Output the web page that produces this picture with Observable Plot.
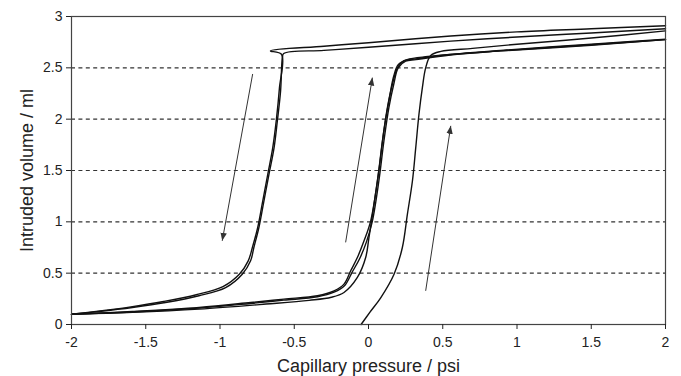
<!DOCTYPE html>
<html>
<head>
<meta charset="utf-8">
<script src="https://cdn.jsdelivr.net/npm/d3@7"></script>
<script src="https://cdn.jsdelivr.net/npm/@observablehq/plot@0.6"></script>
<style>
  body { margin: 0; background: #fff; }
  #chart svg { display: block; }
</style>
</head>
<body>
<div id="chart"></div>
<script>
// ---- axis ticks ----
const xTicks = [-2, -1.5, -1, -0.5, 0, 0.5, 1, 1.5, 2];
const xTickLabels = ["-2", "-1.5", "-1", "-0.5", "0", "0.5", "1", "1.5", "2"];
const yTicks = [0, 0.5, 1, 1.5, 2, 2.5, 3];
const yTickLabels = ["0", "0.5", "1", "1.5", "2", "2.5", "3"];
const gridY = [0.5, 1, 1.5, 2, 2.5];
const xLabel = "Capillary pressure / psi";
const yLabel = "Intruded volume / ml";

// ---- curves (psi, ml) ----
// first intrusion (rightmost)
const intrusionX = [-0.05, 0.01, 0.082, 0.172, 0.228, 0.262, 0.296, 0.318, 0.34, 0.363, 0.385, 0.419, 0.487, 0.7, 1.0, 1.5, 2.0];
const intrusionY = [0, 0.12, 0.26, 0.49, 0.75, 1.075, 1.40, 1.72, 2.05, 2.31, 2.50, 2.62, 2.66, 2.69, 2.73, 2.79, 2.86];

// drainage cycle 1 (from right end, along top, down the left branch)
const drain1X = [2.0, 1.5, 1.0, 0.554, 0.0, -0.3, -0.571, -0.58, -0.592, -0.614, -0.636, -0.67, -0.704, -0.738, -0.772, -0.794, -0.85, -0.962, -1.142, -1.367, -1.59, -1.816, -2.0];
const drain1Y = [2.88, 2.84, 2.80, 2.76, 2.70, 2.67, 2.64, 2.60, 2.275, 1.98, 1.72, 1.465, 1.205, 0.945, 0.75, 0.62, 0.49, 0.36, 0.28, 0.214, 0.166, 0.127, 0.10];

// drainage cycle 2 (upper top line, sharp tip, left branch slightly offset)
const drain2X = [2.0, 1.5, 1.0, 0.554, 0.0, -0.3, -0.66, -0.585, -0.6, -0.62, -0.645, -0.678, -0.712, -0.746, -0.782, -0.81, -0.87, -0.98, -1.16, -1.38, -1.6, -1.82, -2.0];
const drain2Y = [2.91, 2.88, 2.85, 2.81, 2.745, 2.71, 2.665, 2.63, 2.30, 2.0, 1.72, 1.465, 1.205, 0.945, 0.75, 0.62, 0.49, 0.37, 0.29, 0.224, 0.172, 0.13, 0.10];

// imbibition curves (middle, rising)
const imbib1X = [-2.0, -1.59, -1.14, -0.794, -0.57, -0.344, -0.232, -0.165, -0.12, -0.075, -0.03, 0.015, 0.06, 0.094, 0.127, 0.161, 0.195, 0.24, 0.307, 0.55, 0.89, 1.5, 2.0];
const imbib1Y = [0.10, 0.127, 0.166, 0.214, 0.247, 0.28, 0.328, 0.393, 0.523, 0.652, 0.815, 1.01, 1.40, 1.79, 2.11, 2.34, 2.50, 2.57, 2.585, 2.63, 2.67, 2.73, 2.78];
const imbib2X = [-2.0, -1.59, -1.14, -0.794, -0.57, -0.344, -0.232, -0.16, -0.11, -0.06, -0.015, 0.025, 0.07, 0.104, 0.137, 0.17, 0.2, 0.25, 0.32, 0.55, 0.89, 1.5, 2.0];
const imbib2Y = [0.10, 0.122, 0.16, 0.205, 0.237, 0.27, 0.315, 0.38, 0.51, 0.64, 0.80, 1.0, 1.40, 1.79, 2.11, 2.34, 2.50, 2.565, 2.58, 2.625, 2.665, 2.725, 2.775];
const imbib3X = [-2.0, -1.59, -1.14, -0.69, -0.4, -0.25, -0.165, -0.075, -0.019, 0.003, 0.03, 0.07, 0.105, 0.14, 0.17, 0.2, 0.26, 0.4, 0.55, 0.89, 1.5, 2.0];
const imbib3Y = [0.10, 0.118, 0.15, 0.199, 0.235, 0.265, 0.312, 0.458, 0.652, 0.847, 1.10, 1.50, 1.90, 2.20, 2.42, 2.53, 2.58, 2.61, 2.63, 2.665, 2.72, 2.775];

// direction arrows (tail -> head)
const arrowX1 = [-0.78, -0.154, 0.385];
const arrowY1 = [2.44, 0.80, 0.328];
const arrowX2 = [-0.985, 0.026, 0.554];
const arrowY2 = [0.815, 2.405, 1.935];

// ---- build tables ----
const seriesDefs = [
  ["intrusion", intrusionX, intrusionY],
  ["drain1", drain1X, drain1Y],
  ["drain2", drain2X, drain2Y],
  ["imbib1", imbib1X, imbib1Y],
  ["imbib2", imbib2X, imbib2Y],
  ["imbib3", imbib3X, imbib3Y]
];
const rows = seriesDefs.flatMap(([s, xs, ys]) => xs.map((x, i) => ({s, x, y: ys[i]})));
const arrows = arrowX1.map((x1, i) => ({x1, y1: arrowY1[i], x2: arrowX2[i], y2: arrowY2[i]}));

function arrowHead(color, context) {
  const doc = (context && context.document) || document;
  const ns = "http://www.w3.org/2000/svg";
  const m = doc.createElementNS(ns, "marker");
  m.setAttribute("viewBox", "-6 -4 8 8");
  m.setAttribute("markerWidth", "8");
  m.setAttribute("markerHeight", "8");
  m.setAttribute("markerUnits", "userSpaceOnUse");
  m.setAttribute("orient", "auto");
  m.setAttribute("refX", "2");
  m.setAttribute("refY", "0");
  const p = doc.createElementNS(ns, "path");
  p.setAttribute("d", "M-6,-3.2L2,0L-6,3.2Z");
  p.setAttribute("fill", color);
  p.setAttribute("stroke", "none");
  m.appendChild(p);
  return m;
}

const chart = Plot.plot({
  width: 681,
  height: 376,
  marginLeft: 71,
  marginRight: 16,
  marginTop: 16,
  marginBottom: 52,
  style: {fontFamily: "'Liberation Sans', Arial, sans-serif", color: "#222", background: "#fff"},
  x: {domain: [-2, 2]},
  y: {domain: [0, 3]},
  marks: [
    Plot.ruleY(gridY, {stroke: "#333", strokeWidth: 1.1, strokeDasharray: "4,3.4"}),
    Plot.line(rows, {x: "x", y: "y", z: "s", stroke: "#111", strokeWidth: 1.4, curve: "catmull-rom"}),
    Plot.link(arrows, {x1: "x1", y1: "y1", x2: "x2", y2: "y2", stroke: "#333", strokeWidth: 1, markerEnd: arrowHead}),
    Plot.frame({stroke: "#444", strokeWidth: 1.2}),
    Plot.axisX({ticks: xTicks, tickFormat: (d) => xTickLabels[xTicks.indexOf(d)], tickSize: 5, tickPadding: 8, fontSize: 14, label: null}),
    Plot.axisY({ticks: yTicks, tickFormat: (d) => yTickLabels[yTicks.indexOf(d)], tickSize: 5, tickPadding: 4, fontSize: 14, label: null}),
    Plot.text([xLabel], {frameAnchor: "bottom", dy: 47, fontSize: 18, fill: "#222", textAnchor: "middle"}),
    Plot.text([yLabel], {frameAnchor: "left", dx: -44, rotate: -90, fontSize: 18, fill: "#222", textAnchor: "middle"})
  ]
});
document.getElementById("chart").appendChild(chart);
</script>
</body>
</html>
